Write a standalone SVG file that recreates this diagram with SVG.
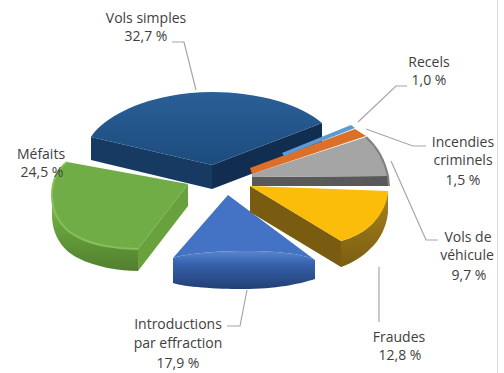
<svg xmlns="http://www.w3.org/2000/svg" width="504" height="373" viewBox="0 0 504 373">
<defs>
<style>
text{font-family:"Open Sans","Liberation Sans",sans-serif;font-size:14px;fill:#404040;text-anchor:middle}
.lead{fill:none;stroke:#a6a6a6;stroke-width:1.2}
</style>
<linearGradient id="gTopBlue" x1="0" y1="0" x2="0" y2="1"><stop offset="0" stop-color="#2a5f97"/><stop offset="1" stop-color="#1d4c7e"/></linearGradient>
<linearGradient id="gGreenSide" x1="0" y1="0" x2="0" y2="1"><stop offset="0" stop-color="#8cc460"/><stop offset="0.35" stop-color="#6aa63c"/><stop offset="1" stop-color="#527f30"/></linearGradient>
<linearGradient id="gBlueSide" x1="0" y1="0" x2="0" y2="1"><stop offset="0" stop-color="#5a86d0"/><stop offset="0.35" stop-color="#3561ac"/><stop offset="1" stop-color="#233f74"/></linearGradient>
<linearGradient id="gBrownSide" x1="0" y1="0" x2="0" y2="1"><stop offset="0" stop-color="#a8841e"/><stop offset="1" stop-color="#7b5d12"/></linearGradient>
</defs>
<rect width="504" height="373" fill="#ffffff"/>
<line x1="497.5" y1="0" x2="497.5" y2="373" stroke="#d9d9d9" stroke-width="1"/>

<g id="connectors">
<path class="lead" d="M172,42 H184 L196,90"/>
<path class="lead" d="M407,86 H396 L358,122"/>
<path class="lead" d="M366,129 L413,146 H426"/>
<path class="lead" d="M391,161 L426,240 H438"/>
<path class="lead" d="M379,267 V322"/>
<path class="lead" d="M247,290 L240,326 H227"/>
</g>

<g id="vols-simples">
<path d="M91,137 L212,165 L212,189 L91,160 Z" fill="#163a62"/>
<path d="M212,165 L322,123 L322,147 L212,189 Z" fill="#112e50"/>
<path d="M91,137 C100,122 130,103 170,96 C200,90 240,90 278,101 C295,106 312,114 322,123 L212,165 Z" fill="url(#gTopBlue)"/>
<text x="146" y="23">Vols simples</text>
<text x="146" y="41">32,7 %</text>
</g>

<g id="mefaits">
<path d="M138,249 C120,249 95,246 78,237 C60,228 52,212 52,195 L52,215 C52,232 60,249 78,258 C95,267 120,271 138,271 Z" fill="url(#gGreenSide)"/>
<path d="M188,184 L138,249 L138,271 L188,206 Z" fill="#69a23d"/>
<path d="M67,162 L188,184 L138,249 C120,249 95,246 78,237 C60,228 52,212 52,195 C52,180 58,169 67,162 Z" fill="#70ad47"/>
<path d="M138,249 C120,249 95,246 78,237 C60,228 52,212 52,195 C52,180 58,169 67,162" fill="none" stroke="#86c05a" stroke-width="2"/>
<text x="41" y="159">Méfaits</text>
<text x="42" y="177">24,5 %</text>
</g>

<g id="introductions">
<path d="M173,258 C185,254 215,251 243,251 C275,251 300,253 315,260 L315,279 C300,284 275,289 243,289 C215,289 185,287 173,283 Z" fill="url(#gBlueSide)"/>
<path d="M228,195 L173,258 C185,254 215,251 243,251 C275,251 300,253 315,260 Z" fill="#4472c4"/>
<text x="178" y="329">Introductions</text>
<text x="178" y="348">par effraction</text>
<text x="178" y="368">17,9 %</text>
</g>

<g id="fraudes">
<path d="M250,186 L341,241 L341,267 L250,212 Z" fill="#7a5c10"/>
<path d="M341,241 C352,238 362,233 370,226 C380,216 386,204 388,191 L388,213 C386,228 380,240 370,249 C362,257 352,263 341,267 Z" fill="url(#gBrownSide)"/>
<path d="M250,186 L388,191 C387,204 381,216 370,226 C362,233 352,238 341,241 Z" fill="#fbbd0a"/>
<text x="399" y="342">Fraudes</text>
<text x="400" y="360">12,8 %</text>
</g>

<g id="vols-vehicule">
<path d="M252,177 L388,176 L389,186 L252,186 Z" fill="#595959"/>
<path d="M252,174 L366,137 C375,145 384,158 388,176 L252,177 Z" fill="#a5a5a5"/>
<path d="M366,137 C375,145 384,158 388,176 L389,186" fill="none" stroke="#808080" stroke-width="2"/>
<text x="468" y="242">Vols de</text>
<text x="467" y="260">véhicule</text>
<text x="469" y="280">9,7 %</text>
</g>

<g id="incendies">
<path d="M250,168 L355,129 L366,136 L252,174 Z" fill="#dd7028"/>
<text x="463" y="147">Incendies</text>
<text x="463" y="165">criminels</text>
<text x="463" y="185">1,5 %</text>
</g>

<g id="recels">
<path d="M282,153 L351,125 L355,128 L284,156 Z" fill="#5b9bd5"/>
<text x="429" y="67">Recels</text>
<text x="429" y="85">1,0 %</text>
</g>
</svg>
